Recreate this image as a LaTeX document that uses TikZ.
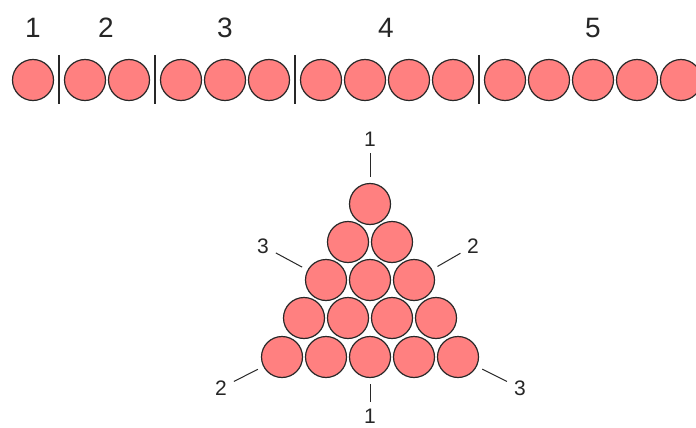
\documentclass[tikz,border=0pt]{standalone}
\usepackage{fontspec}
\setmainfont{Liberation Sans}
\definecolor{ballfill}{RGB}{255,128,128}
\definecolor{ballline}{RGB}{40,40,40}
\tikzset{
  ball/.style={circle,draw=ballline,fill=ballfill,line width=1.2pt,inner sep=0pt,minimum size=41pt},
  rowtag/.style={inner sep=0pt,font=\fontsize{28}{30}\selectfont,text=black!85},
  tritag/.style={circle,inner sep=1pt,font=\fontsize{21}{24}\selectfont,text=black!85},
  bar/.style={line width=1.5pt,draw=ballline},
  leader/.style={line width=1pt,draw=ballline,shorten <=3.5pt,shorten >=6pt}
}
\begin{document}
\begin{tikzpicture}[x=1pt,y=-1pt]
\useasboundingbox (0,0) rectangle (696,428);
% row of balls in groups
\node[ball] (r1) at (33,80) {};
\node[ball] (r2) at (85,80) {};
\node[ball] (r3) at (129,80) {};
\node[ball] (r4) at (181,80) {};
\node[ball] (r5) at (225,80) {};
\node[ball] (r6) at (269,80) {};
\node[ball] (r7) at (321,80) {};
\node[ball] (r8) at (365,80) {};
\node[ball] (r9) at (409,80) {};
\node[ball] (r10) at (453,80) {};
\node[ball] (r11) at (505,80) {};
\node[ball] (r12) at (549,80) {};
\node[ball] (r13) at (593,80) {};
\node[ball] (r14) at (637,80) {};
\node[ball] (r15) at (681,80) {};
\draw[bar] (59,55) -- (59,104);
\draw[bar] (155,55) -- (155,104);
\draw[bar] (295,55) -- (295,104);
\draw[bar] (479,55) -- (479,104);
\node[rowtag] (g1) at (33,28) {1};
\node[rowtag] (g2) at (106,28) {2};
\node[rowtag] (g3) at (225,28) {3};
\node[rowtag] (g4) at (386,28) {4};
\node[rowtag] (g5) at (593,28) {5};
% triangle of balls
\node[ball] (t11) at (370,204) {};
\node[ball] (t21) at (348,242) {};
\node[ball] (t22) at (392,242) {};
\node[ball] (t31) at (326,280) {};
\node[ball] (t32) at (370,280) {};
\node[ball] (t33) at (414,280) {};
\node[ball] (t41) at (304,318) {};
\node[ball] (t42) at (348,318) {};
\node[ball] (t43) at (392,318) {};
\node[ball] (t44) at (436,318) {};
\node[ball] (t51) at (282,357) {};
\node[ball] (t52) at (326,357) {};
\node[ball] (t53) at (370,357) {};
\node[ball] (t54) at (414,357) {};
\node[ball] (t55) at (458,357) {};
% side labels
\node[tritag] (topone) at (370,139) {1};
\node[tritag] (botone) at (370,416) {1};
\node[tritag] (leftthree) at (263,246) {3};
\node[tritag] (righttwo) at (473,246) {2};
\node[tritag] (lefttwo) at (221,388) {2};
\node[tritag] (rightthree) at (520,388) {3};
\draw[leader] (topone) -- (t11);
\draw[leader] (botone) -- (t53);
\draw[leader] (leftthree) -- (t31);
\draw[leader] (righttwo) -- (t33);
\draw[leader] (lefttwo) -- (t51);
\draw[leader] (rightthree) -- (t55);
\end{tikzpicture}
\end{document}
